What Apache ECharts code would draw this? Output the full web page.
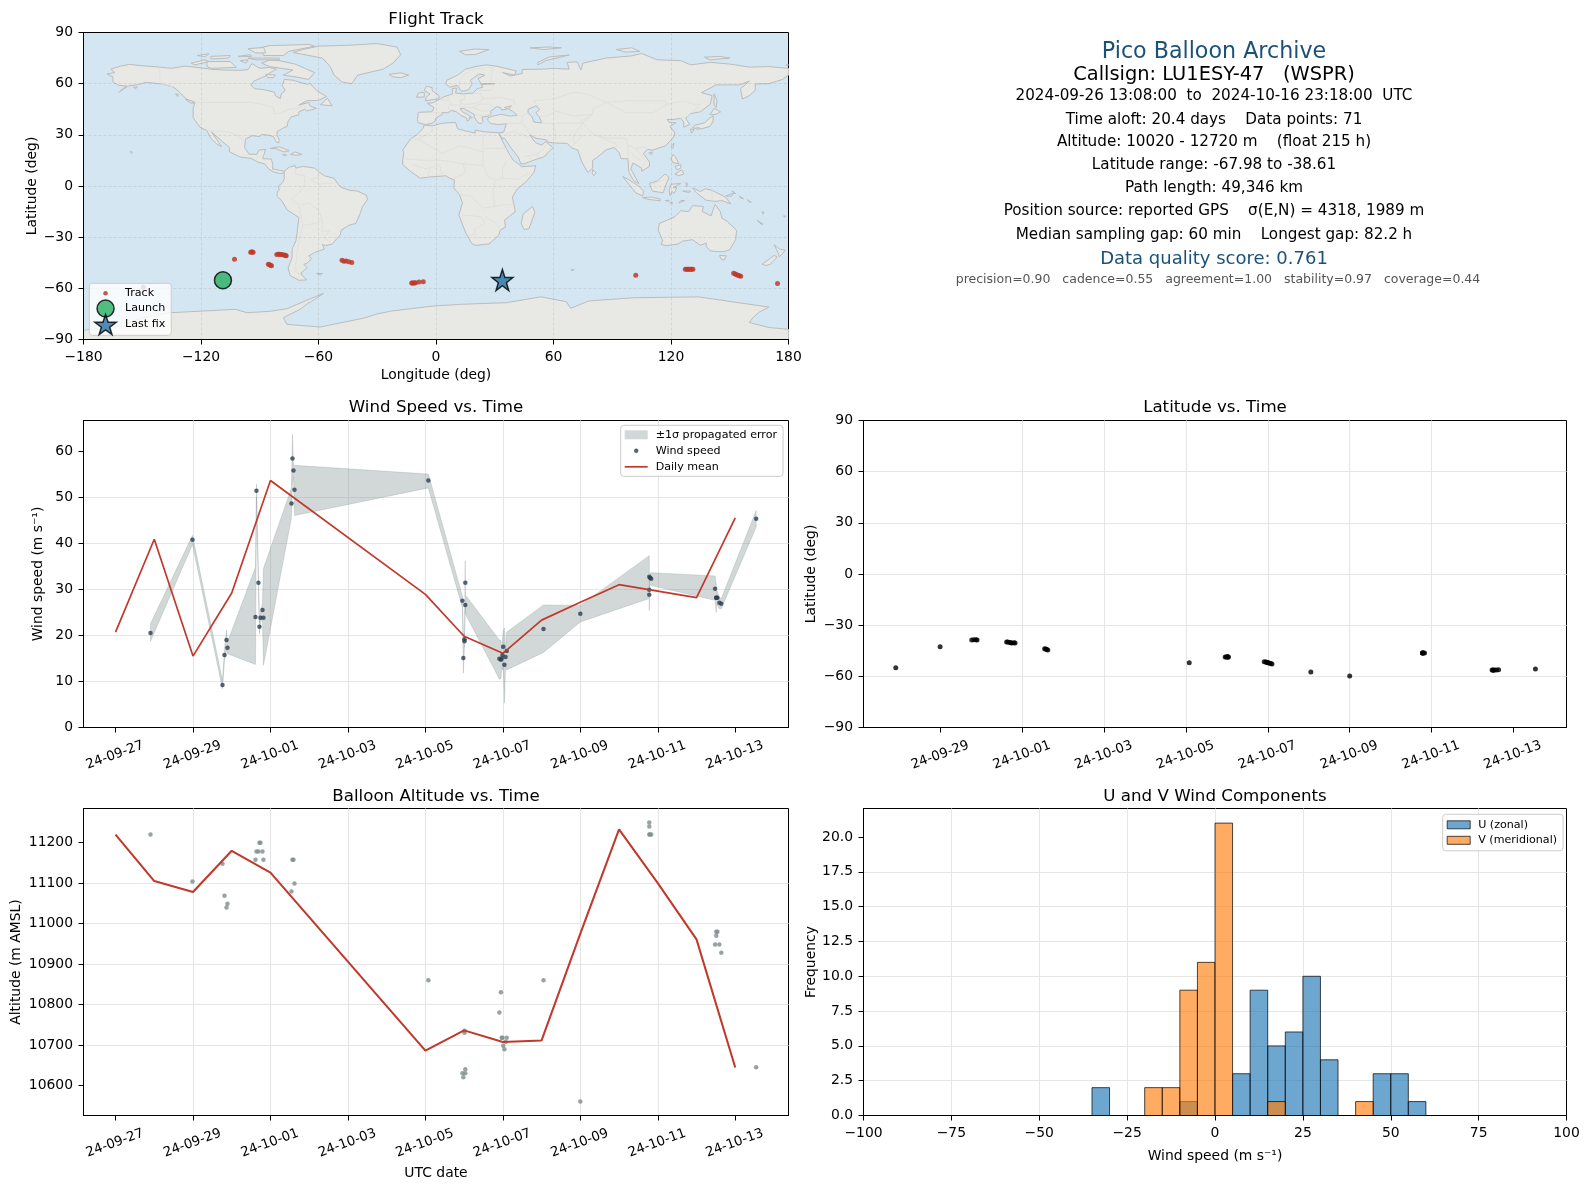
<!DOCTYPE html>
<html><head><meta charset="utf-8"><title>Pico Balloon Archive</title>
<script src="https://cdn.jsdelivr.net/npm/echarts@6/dist/echarts.min.js"></script>
<style>html,body{margin:0;padding:0;background:#fff}#c{width:1589px;height:1189px}</style></head>
<body><div id="c"></div>
<script>
const timeTickDays = [0,2,4,6,8,10,12,14,16];
const timeTickLabels = ["24-09-27","24-09-29","24-10-01","24-10-03","24-10-05","24-10-07","24-10-09","24-10-11","24-10-13"];
const fixDays   = [0.903,1.987,2.761,2.813,2.865,2.89,3.613,3.639,3.69,3.716,3.742,3.794,3.819,4.542,4.568,4.594,4.62,8.077,8.956,8.98,9.01,9.01,9.03,9.03,9.91,9.95,9.97,9.99,10.01,10.04,10.07,10.1,11.05,12.0,13.78,13.78,13.78,13.8,13.83,15.48,15.51,15.51,15.54,15.59,15.64,16.54];
const windSpeed = [20.5,40.75,9.2,15.75,19.0,17.3,24.0,51.4,31.4,21.85,23.8,25.5,23.8,48.6,58.4,55.8,51.6,53.6,27.5,15.1,19.15,18.7,31.4,26.6,14.9,14.7,15.0,15.75,17.5,13.6,15.3,16.6,21.4,24.7,32.7,29.9,28.8,32.5,32.3,30.1,28.15,28.15,28.15,27.05,26.85,45.3];
const windUpper = [22.5,41.7,10.2,17.0,21.2,18.5,34.8,52.8,33,22.8,25,27,34.5,52,63.6,57,56.9,55,28.5,20,20.5,20,36.2,28.8,19,18.9,17,19,21,21.6,17,20.7,26.6,26.5,37.3,31.5,30.5,33.5,33.6,32.9,31,29.5,29.5,28.2,28,47.1];
const windLower = [18.7,39.7,8.4,14.5,17.0,16.0,13.7,50,30,20.3,22.6,24,13.5,45.5,53,54.5,46,52,26,11.8,17.8,17.5,27,24.7,10.5,10.6,13,12.5,14,5.3,13.5,12.5,16.3,22.9,28,28,25.4,31,30.8,27.6,25,26.8,26.5,25.8,25.8,43.5];
const latitudes = [-55.0,-42.7,-38.7,-38.6,-38.6,-38.7,-39.8,-39.9,-40.2,-40.3,-40.4,-40.3,-40.4,-43.9,-44.0,-44.2,-44.5,-52.1,-48.6,-48.6,-48.5,-48.6,-48.6,-48.7,-51.5,-51.6,-51.7,-51.9,-52.0,-52.3,-52.5,-52.7,-57.4,-59.8,-46.3,-46.3,-46.3,-46.3,-46.3,-56.3,-56.4,-56.3,-56.3,-56.3,-56.2,-55.7];
const altitudes = [11220,11104,11148,11069,11040,11049,11158,11178,11178,11200,11200,11178,11158,11079,11158,11158,11099,10860,10630,10620,10735,10730,10640,10630,10780,10830,10718,10718,10698,10689,10708,10718,10860,10560,11250,11240,11220,11220,11220,10948,10970,10980,10980,10948,10928,10645];
const meanDays  = [0,1,2,3,4,8,9,10,11,12,13,14,15,16];
const windMean  = [20.7,40.85,15.5,29.2,53.6,28.9,19.8,16.1,23.3,27.2,31,29.6,28.2,45.5];
const altMean   = [11220,11105,11078,11180,11126,10686,10736,10707,10711,10975,11233,11100,10961,10644];
const trackLon = [-149.4,-102.9,-94.6,-94.2,-93.8,-93.4,-81.3,-80.5,-79.8,-79,-78.3,-77.4,-76.9,-76.5,-85.6,-85,-84.5,-84,-48,-47,-45.9,-44.5,-43,-12.4,-12,-11.5,-11,-10.5,-8.7,-6.5,102,127.3,128,128.6,129.2,129.9,130.5,131.2,152,152.8,153.5,154.2,154.9,155.6,174.4];
const trackLat = [-59.4,-43,-38.9,-38.7,-38.7,-38.9,-40.2,-40,-40,-40.1,-40.3,-40.5,-40.8,-40.9,-45.9,-46.1,-46.4,-46.7,-43.6,-44.1,-44,-44.4,-44.9,-56.9,-56.9,-56.8,-56.8,-56.7,-56.3,-56.2,-52.4,-48.8,-48.8,-48.8,-48.8,-48.8,-48.8,-48.8,-51.2,-51.6,-52,-52.4,-52.6,-52.9,-57.1];
const launchFix = [-108.8,-55.3];
const lastFix = [33.9,-55.1];
const histBinStarts = [-35,-30,-25,-20,-15,-10,-5,0,5,10,15,20,25,30,35,40,45,50,55];
const histBinWidth = 5;
const uCounts = [2,0,0,0,0,1,0,0,3,9,5,6,10,4,0,0,3,3,1];
const vCounts = [0,0,0,2,2,9,11,21,0,0,1,0,0,0,0,1,0,0,0];
const infoLines = [
 ["Pico Balloon Archive",22.2,"#1a5276"],["Callsign: LU1ESY-47   (WSPR)",19.4,"#000"],
 ["2024-09-26 13:08:00  to  2024-10-16 23:18:00  UTC",15.2,"#000"],["Time aloft: 20.4 days    Data points: 71",15.2,"#000"],
 ["Altitude: 10020 - 12720 m    (float 215 h)",15.2,"#000"],["Latitude range: -67.98 to -38.61",15.2,"#000"],
 ["Path length: 49,346 km",15.2,"#000"],["Position source: reported GPS    σ(E,N) = 4318, 1989 m",15.2,"#000"],
 ["Median sampling gap: 60 min    Longest gap: 82.2 h",15.2,"#000"],["Data quality score: 0.761",18,"#1a5276"],
 ["precision=0.90   cadence=0.55   agreement=1.00   stability=0.97   coverage=0.44",12.5,"#555"]];
const infoY = [52.7,75,96.2,119.6,142.4,165,188.5,211.3,234.6,259,279.7];
const infoX = [1214,1214,1214,1214,1214,1214,1214,1214,1214,1214,1218];
const land = [
[[-168,65.6],[-164,66.5],[-166,68.5],[-161,70.3],[-156.5,71.3],[-150,70.5],[-141,69.7],[-135,69],[-128,70.3],[-124,69.8],[-115,68.5],[-108,68],[-100,67.8],[-96,68.2],[-94,71.8],[-90,69],[-85,69.5],[-81.5,68.5],[-85,66.3],[-87,64.5],[-93,61.5],[-94.5,59],[-92.5,57],[-88,56.5],[-82.5,55],[-82,52.9],[-79.5,51.3],[-79,54],[-77,56],[-78.5,58.8],[-77.5,62.5],[-73,62],[-70,61],[-65.5,59.5],[-64.5,60.3],[-61,56],[-56,52.5],[-60,50.2],[-66,50],[-70,47.5],[-65,49],[-64.5,47],[-61,45.5],[-66,44],[-67,45],[-70,43.5],[-70,41.7],[-74,40.5],[-75.5,38],[-76,35],[-78,34],[-81,32],[-81.3,30],[-80,26.8],[-80.5,25.2],[-81.8,26],[-83,29],[-85,29.7],[-89,30.2],[-90,29],[-94,29.5],[-97.3,27.5],[-97.7,22.5],[-95.5,18.7],[-91.5,18.5],[-90.5,21],[-87,21.5],[-88,18],[-88.5,16],[-84,15.8],[-83.3,12],[-83.5,10],[-80,9.2],[-77.5,8.7],[-77.5,7.5],[-80,7.3],[-83,8.3],[-85.5,10],[-87.5,13],[-91,14],[-94.5,16.2],[-100,17],[-105.5,20],[-105.5,22.5],[-109,26],[-112.5,29.5],[-114.7,31.7],[-112,27.5],[-109.5,23],[-112,24.7],[-115,28],[-117,32.5],[-120.5,34.5],[-124,40],[-124,46],[-123,49],[-127.5,51],[-130.5,54.5],[-134,58],[-140,59.8],[-148,60.8],[-152,59.5],[-157,58.7],[-162,55],[-158,58.7],[-162,59],[-165,61],[-165,64]],
[[-73,78.3],[-68,80],[-60,82],[-45,82.5],[-30,83.5],[-20,81.5],[-18,77],[-22,72],[-27,68.5],[-40,65],[-43,60],[-48,61],[-52,65],[-54,70],[-58,75]],
[[-80,73.5],[-72,71.5],[-67,69],[-62,66.5],[-65,62.5],[-72,64],[-78,65],[-73,68],[-85,70],[-89,72],[-85,73.8]],
[[-117,73],[-105,73],[-102,69.5],[-115,69],[-117,70]],
[[-90,81],[-85,82.3],[-65,83],[-62,82],[-75,79],[-78,76.5],[-88,76.5]],
[[-125,72],[-118,74],[-116,73],[-123,71]],
[[-115,76],[-105,76.5],[-106,75],[-115,74.5]],
[[-96,75],[-80,75],[-80,74],[-92,74]],
[[-96,80.5],[-88,81.2],[-87,78],[-92,78]],
[[-122,76.5],[-116,77.5],[-118,75.8]],
[[-101,76],[-95,77],[-94,76]],
[[-100,73.5],[-96,74],[-97,72]],
[[-87,65.5],[-82,65],[-83,63.5],[-86,63.6]],
[[-59,47.7],[-53,47],[-55.5,51.5]],
[[-84.8,22],[-80,23],[-75,20.7],[-77.5,20],[-82,22]],
[[-74.3,18.5],[-72,20],[-68.5,18.5],[-71,18]],
[[-78.3,18.4],[-76.3,18.2],[-77,17.8]],
[[-128,50.8],[-125,50],[-123.5,48.5],[-125.5,48.8]],
[[-133,54],[-131.5,53.7],[-132,52.5]],
[[-154.5,57.9],[-152.5,58],[-153.5,57]],
[[-156,20.5],[-155,19.7],[-155.7,19]],
[[-77.5,8.7],[-75,11],[-72,12],[-71.5,10.5],[-68,11.5],[-62,10.5],[-60,8.5],[-57,6],[-52,4.5],[-50,1],[-48,-1],[-44,-2.5],[-40,-3],[-35.5,-5.5],[-35,-8],[-37.5,-12],[-39,-17],[-41,-22],[-44.5,-23],[-48.5,-26],[-48.8,-28.5],[-53,-34],[-56.5,-35],[-58,-34.3],[-57,-37],[-62,-39],[-65,-41],[-63.5,-42.5],[-65.5,-45],[-67.5,-46],[-65.8,-48],[-69,-51],[-68.3,-52.5],[-66,-55],[-70,-55.3],[-74.5,-52.5],[-75.5,-48],[-73.5,-42],[-73.5,-37],[-71.5,-32],[-71,-28],[-70,-18.5],[-76,-14],[-78.5,-9],[-81.2,-6],[-81,-3.5],[-80,-2.3],[-80.5,0],[-78.8,1.5],[-77.5,4],[-77.5,7]],
[[-61,-51.3],[-58,-51.3],[-59,-52.3]],
[[-6,35.8],[-2,35.2],[3,36.8],[10,37.3],[11,33.5],[15,32.3],[20,31],[20,32.8],[25,31.7],[32.3,31.2],[32.5,29.8],[35,24],[37.5,18.5],[39.5,15],[43.2,12],[43.5,11.3],[51,11.9],[50,8],[46,2.5],[41.5,-1.7],[39,-6.5],[40.5,-15],[35,-20],[35.5,-24],[32.7,-26],[32,-29],[27,-34],[20,-34.8],[18.3,-33.8],[15,-27],[11.7,-17],[13.5,-10],[12,-5],[9,-1],[9.5,3.5],[7,4.5],[5,6],[-4,5.2],[-8,4.5],[-13,8.5],[-17,12.5],[-17,15],[-16.5,19.5],[-17,21],[-13,27.7],[-9.7,30],[-6.5,34]],
[[-5.5,36],[-9,37],[-9.5,39],[-9,43.2],[-2,43.5],[-1,46],[-4.5,48.5],[-1.5,48.8],[2,51],[4.5,52.5],[8.5,54],[8.3,57],[10.5,57.5],[10,54.5],[14,54],[19,54.5],[21,57],[24,58],[23,59.5],[30,60],[23,60],[21.5,63],[25,65],[22,65.7],[17.5,62],[18.5,60],[16.5,56.3],[13,55.5],[11,59],[7,58],[5,60],[5.5,62],[11,65],[15,68.5],[20,70],[26,71],[31,70.2],[41,67.5],[40,65],[34,66.5],[38,64.5],[44,66],[44,68.3],[54,68.5],[60,69],[68,68.5],[67,72.5],[72,72.8],[74,68],[75,72],[80,73.3],[87,75],[100,76.3],[105,77.7],[113,74],[125,73.5],[130,71],[140,72.5],[150,71.5],[160,69.7],[170,70],[180,69],[180,65],[177,62.5],[170,60],[163,59.8],[163,56],[160,53],[156.5,51],[155.5,57],[160,61.5],[155,59.3],[143,59.3],[135.5,54.7],[141,53],[140,48],[135,43.5],[130,42.5],[127.5,39.7],[129.5,36],[126.5,34.5],[126.5,37.5],[125,39.7],[121.5,39],[118,39],[119,37.3],[122.5,37],[119.5,35],[122,31],[121,28],[117,23.5],[110.5,21],[108,21.5],[106,19],[109,14],[109,11.5],[105,8.7],[105,10.5],[100.5,13.5],[99.5,10],[103.5,1.5],[101,3],[98.5,8],[98,16],[94.5,16],[93.5,19.5],[91,22.5],[87,21.3],[82,16.5],[80,15],[80,10.5],[77.5,8],[74.5,14],[72.7,20],[72.5,21],[69,22.5],[67,25],[61,25.2],[57,25.7],[56.5,27],[51,28],[48,30],[50,26.5],[51.5,25],[54,24],[56,26],[59.7,22.5],[55,17],[52,16],[45,13],[43.3,13],[42,17],[38.5,22],[35,28],[34,27.8],[32.6,30],[32.3,31.2],[34.5,31.5],[36,36.5],[32,36],[28,36.6],[26.5,38.5],[26.5,40],[29,41],[33,42],[38,41],[41.5,41.5],[39,44],[37,45],[38.5,47],[35,46],[36.5,45.2],[33.5,44.5],[33,46],[31,46.5],[28,44],[28,41.8],[26,40.8],[23.5,40.5],[24,38],[23,36.5],[21.5,37],[19.5,40.5],[19.5,42],[14,45.5],[12.3,45.3],[13.5,43.5],[16,42],[18.5,40],[16.8,40],[17,38.8],[16,38],[15.5,40],[12.5,41.5],[10.5,43.5],[8,44.3],[6,43],[3,43],[3,41.8],[0,40],[-0.5,38],[-2,36.8]],
[[-5.5,50],[1.5,51.2],[1.5,53],[-2,56],[-2,57.7],[-5,58.6],[-6,56],[-3,54],[-5,52]],
[[-10,52],[-6,52.2],[-6,55],[-9,54.5]],
[[-24,65.5],[-18,66.3],[-14,65],[-18,63.5],[-22,64]],
[[12,79],[20,80.3],[27,80],[20,77],[15,77]],
[[48,81],[58,81.5],[64,81],[55,80]],
[[92,80],[100,81],[104,79],[97,78.5]],
[[137,75.5],[145,76],[150,75],[140,74]],
[[178.8,71.3],[180,71],[178.8,70.8]],
[[52,71],[56,73.5],[68,76.8],[58,75.7],[52,72.5]],
[[142,54],[143.5,50],[143,46],[142,48]],
[[131,34],[135.5,33.5],[140,35],[141.5,38],[141.5,41.3],[140,40],[137,37],[132,35.5]],
[[140,42],[142,45.5],[145.3,43.5],[143,42]],
[[130,33.5],[131.8,33],[130.5,31]],
[[132.5,34],[134.5,34.2],[133.5,33]],
[[120,23],[121.5,25.2],[121,22]],
[[108.7,19.3],[110.5,20],[110,18.3]],
[[120,16],[121,18.5],[122.3,17],[124,13],[121,13.7]],
[[122,7],[125.5,9.5],[126.5,7],[124,6]],
[[122,11.5],[125,12.5],[125,10.5],[123,9.5]],
[[109,1.5],[113,3],[117,7],[119,5],[117.5,1],[116,-4],[110.5,-3]],
[[95.3,5.5],[98,4],[103.5,0],[106,-3],[105.5,-5.8],[102,-4],[98.5,1]],
[[105.5,-6.8],[110,-6.5],[114.5,-7.7],[114.5,-8.7],[108,-7.8]],
[[119.5,-5.5],[119,-2.5],[120,1],[125,1.5],[121,-1],[123,-1],[121.5,-4.5],[120.5,-3]],
[[127.5,2],[128.5,1.5],[128,-0.5]],
[[126,-3],[130,-3],[129,-3.8]],
[[131,-1],[135,-3.3],[137.5,-1.6],[141,-2.6],[146,-5.5],[147.8,-6.5],[150.5,-10.5],[146,-8.5],[143,-9],[138,-8.4],[133,-4]],
[[148,-5.8],[152,-4.2],[151,-6]],
[[151,-3],[153,-4.5],[152,-3.5]],
[[155,-6],[157,-7.5],[155.5,-7]],
[[159,-8],[161,-9.5],[160,-9.5]],
[[124,-10],[127,-8.5],[125,-8.5]],
[[117,-8.5],[119,-8.3],[119,-9]],
[[120,-9.5],[121,-10],[119.5,-9.9]],
[[166.5,-15],[167.5,-15.5],[167,-16.5]],
[[164,-20.2],[167,-22.4],[166,-22.3]],
[[177.5,-17.5],[178.7,-17.7],[178,-18.3]],
[[80,9.7],[81.8,7.5],[80.5,6],[79.8,8]],
[[49.3,-12],[50.5,-15.5],[47.5,-25],[45,-25.5],[43.5,-22],[44.5,-16.5]],
[[114,-22],[113.5,-26],[115.7,-32],[115,-34.3],[118,-35],[123.5,-34],[126,-32.3],[131,-31.5],[135,-34.7],[138,-33.5],[138,-35.5],[140,-38],[144,-38.5],[147,-38.5],[150,-37.3],[153,-31.5],[153.5,-26],[149,-21],[146,-18.8],[145.2,-15],[142.5,-10.8],[141.5,-14],[140.5,-17.5],[136,-15],[136.5,-12],[131,-11.5],[129,-15],[125,-14.5],[122,-18],[117,-20.5]],
[[144.8,-40.7],[148.3,-41],[147,-43.5],[145.5,-42.8]],
[[172.7,-34.5],[175.5,-37],[178.3,-37.7],[177,-39.5],[175.3,-41.5],[174.8,-39.5]],
[[172.7,-40.7],[174.2,-41.7],[170.7,-45.9],[168.5,-46.6],[166.5,-45.8],[170,-43]],
[[69,-49],[70.5,-49],[69.5,-49.7]],
[[-180,-84.5],[-160,-82],[-155,-79],[-145,-76],[-135.7,-74.3],[-118.8,-73.3],[-102.4,-72.3],[-96.6,-74.3],[-85,-73.5],[-76.2,-72],[-66,-67],[-57.5,-63],[-62,-66.5],[-66,-69.3],[-69.4,-72.3],[-77.9,-77.2],[-76.2,-81.1],[-59.2,-82.7],[-37,-77.5],[-30,-75],[-22.7,-73.3],[-1.6,-70.4],[12.4,-69.4],[36,-68.4],[53.5,-65],[66.5,-67.8],[68.8,-71.7],[78,-67.4],[101.4,-65.5],[134,-65],[170,-71],[165,-74],[162,-77],[160,-80],[170,-83],[180,-84],[180,-90],[-180,-90]]
];
const inlandSeas = [[[47,45],[51,47],[53,45],[51,43],[53,40],[54,37],[50,37.5],[49,40.5],[47,43]]];
const borders = [
 [[-123,49],[-95,49],[-89,48],[-83,46],[-82.5,42],[-79,43],[-75,45],[-70,46],[-67,47.5],[-67,45]],
 [[-141,69.7],[-141,60],[-134,58]],[[-117,32.5],[-106,31.8],[-101,29.5],[-97.3,26]],[[-92,14.8],[-91,17],[-88,18]],
 [[-71.5,10.5],[-72,7],[-67,6],[-67,1],[-70,-4],[-74,-7.5],[-70,-11],[-69,-17],[-70,-18.5]],[[-60,8.5],[-60,5],[-64,4],[-60,1],[-52,2]],
 [[-69,-17],[-68,-23],[-70,-32],[-71,-40],[-72,-50],[-69,-52]],[[-58,-20],[-58,-27],[-54,-26],[-57.5,-30],[-53,-34]],[[-69,-11],[-65,-10],[-60,-14],[-58,-20],[-62,-22],[-68,-23]],
 [[-9,27.7],[-2,32],[-2,35]],[[-13,27.7],[-8.7,27.3],[3,19],[12,23.5],[15,23],[24,20],[24,31.5]],[[25,22],[36.8,22]],[[-17,16],[-5,15],[3,15],[14,13],[24,12],[24,20]],[[14,13],[15,7.5],[9,4.5]],[[24,12],[27,5],[31,3.5],[34,4.5],[42,4],[48,8]],[[36,14.5],[34,10],[34,4.5]],[[12,-5],[18,-6],[22,-11],[24,-13],[30,-12],[34,-11],[40.5,-10.5]],[[13.5,-17],[23,-18],[25,-22],[20,-25],[20,-28.5],[17,-29]],[[30,-12],[29,-3],[30,3]],[[33,-26],[31,-22],[25,-18]],[[-4,5],[-3,11],[2,12],[3,6]],[[-12,12.5],[-5,10],[-3,11]],
 [[-2,43.5],[3,42.5]],[[2,51],[6,50],[8,49],[7.5,47.5],[6,46],[7.5,44]],[[7,53.5],[6,50]],[[14,54],[15,51],[12,50],[13,48],[17,48],[22,49],[24,51],[23,54],[19,54.5]],[[13,48],[10,47.5],[7.5,47.5]],[[24,51],[33,52],[40,50],[40,47.5]],[[12,46.5],[16,46],[19,46],[22,48],[27,48],[30,46]],[[19,46],[23,44],[28,44]],[[28,41.8],[26,41.8],[23,41],[20,42]],
 [[30,60],[28,62],[29,69],[26,70]],[[25,68.5],[20,69]],[[12,59],[12,62],[15,66],[20,69]],[[30,60],[28,56],[24,56],[21,56]],
 [[47,43],[44,41],[41.5,41.5]],[[44,41],[44,37],[36,36.5]],[[44,37],[46,34],[48,30]],[[39,32],[35,29.5]],[[39,32],[47,29],[48,28.5]],[[52,16],[52,19],[55,22],[56,24]],[[45,17],[52,19]],
 [[54,37],[60,36.5],[61,31],[61,25.2]],[[61,36.5],[66,37],[71,37],[75,37],[71,31],[70,27],[71,25],[69,23]],[[53,45],[50,50],[60,51],[70,55],[77,54],[83,51],[87,49]],[[53,41],[57,41],[61,44],[70,41],[80,42],[74,38]],[[87,49],[80,45],[80,42],[75,37]],[[87,49],[97,43],[111,43],[118,48],[117,50],[110,50],[98,50],[87,49]],[[118,48],[127,50],[131,48],[135,48],[131,43]],[[125,39.7],[129,41],[130,42.5]],[[75,37],[78,33],[81,30],[88,28],[92,28],[97,28],[98,24],[102,22],[106,23],[108,21.5]],[[81,30],[88,26.5],[92,25],[92,22]],[[98,24],[98,16]],[[102,22],[105,18],[107,15],[105,11]],[[100,20],[101,17],[105,15]],[[71,25],[75,30]],
 [[141,-2.6],[141,-9]],[[110,1],[115,3],[117,4]]
];

const FONT = '"DejaVu Sans"';
const RED = '#c0392b', OCEAN = '#d4e6f1', LAND = '#e8e8e4', COAST = '#bcbcbc', BORDER = '#dddddb';
const minus = v => String(v).replace('-', '\u2212');
const r = [
    {left:83.5,top:32.5,width:705,height:307},
    {left:83.5,top:420.5,width:705,height:307},
    {left:863.5,top:420.5,width:703,height:307},
    {left:83.5,top:808.5,width:705,height:307},
    {left:863.5,top:808.5,width:703,height:307}
];
const baseLine = {show:true,onZero:false,lineStyle:{color:'#000',width:1}};
const baseTick = {show:true,length:5,lineStyle:{color:'#000',width:1}};
const gridSplit = {show:true,showMinLine:false,showMaxLine:false,lineStyle:{color:'#e6e6e6',width:1.1}};
function axis(o){
  const ticks = o.ticks, labels = o.labels || ticks.map(minus);
  const fmt = v => { const i = ticks.findIndex(t => Math.abs(t - v) < 1e-6); return i < 0 ? '' : labels[i]; };
  return {
    type:'value', gridIndex:o.g, min:o.min, max:o.max, scale:true,
    name:o.name||'', nameLocation:'middle', nameGap:o.gap||30,
    nameTextStyle:{fontFamily:FONT,fontSize:13.9,color:'#000'},
    axisLine:baseLine,
    axisTick:Object.assign({},baseTick,{customValues:ticks}),
    axisLabel:Object.assign({color:'#000',fontFamily:FONT,fontSize:13.9,margin:o.margin||10.5,customValues:ticks,formatter:fmt,hideOverlap:false,showMinLabel:true,showMaxLabel:true},o.rot?{rotate:20,align:'center',verticalAlign:'top',fontSize:13.3,padding:[0,6,0,0]}:{}),
    splitLine:o.split||gridSplit
  };
}
const timeAxis = (g,min,max,name,gap) => {
  const t=[],l=[]; timeTickDays.forEach((d,i)=>{ if(d>=min&&d<=max){t.push(d);l.push(timeTickLabels[i]);} });
  return axis({g,min,max,ticks:t,labels:l,rot:true,margin:20.5,name,gap});
};
const mapSplit = {show:true,showMinLine:false,showMaxLine:false,lineStyle:{color:'rgba(120,120,120,0.22)',width:0.8,type:[3,2]}};
const dot = (w,h,rr) => `path://M0 0M${w} ${h}M${w/2-rr} ${h/2}a${rr} ${rr} 0 1 0 ${2*rr} 0a${rr} ${rr} 0 1 0 ${-2*rr} 0Z`;
const bar = (w,h,t) => `path://M0 0M${w} ${h}M0 ${h/2-t/2}L${w} ${h/2-t/2}L${w} ${h/2+t/2}L0 ${h/2+t/2}Z`;
const STAR = 'path://M50 0L61.8 35.3L98.9 35.3L69 57.7L79.4 91.2L50 70.5L20.6 91.2L31 57.7L1.1 35.3L38.2 35.3Z';
const legendBase = {orient:'vertical',selectedMode:false,backgroundColor:'rgba(255,255,255,0.8)',borderColor:'#ccc',borderWidth:1,borderRadius:3,
   textStyle:{fontFamily:FONT,fontSize:11.1,color:'#000',padding:[0,0,0,3]},align:'left'};
const zip2 = (a,b)=>a.map((v,i)=>[v,b[i]]);

const series = [
 {type:'custom',name:'land',xAxisIndex:0,yAxisIndex:0,z:-0.5,silent:true,coordinateSystem:'cartesian2d',data:land.map((p,i)=>[i]).concat(inlandSeas.map((p,i)=>[land.length+i])),
  renderItem:(ps,api)=>{const i=api.value(0);const isSea=i>=land.length;const pts=(isSea?inlandSeas[i-land.length]:land[i]).map(p=>api.coord(p));
    return {type:'polygon',shape:{points:pts},style:{fill:isSea?OCEAN:LAND,stroke:COAST,lineWidth:1}};}},
 {type:'custom',name:'borders',xAxisIndex:0,yAxisIndex:0,z:-0.4,silent:true,coordinateSystem:'cartesian2d',data:borders.map((p,i)=>[i]),
  renderItem:(ps,api)=>({type:'polyline',shape:{points:borders[api.value(0)].map(p=>api.coord(p))},style:{fill:null,stroke:BORDER,lineWidth:0.8}})},
 {type:'scatter',name:'Track',xAxisIndex:0,yAxisIndex:0,symbolSize:5,itemStyle:{color:RED,opacity:0.85},data:zip2(trackLon,trackLat),z:3},
 {type:'scatter',name:'Launch',xAxisIndex:0,yAxisIndex:0,symbolSize:17,itemStyle:{color:'#27ae60',borderColor:'#000',borderWidth:1.5},data:[launchFix],z:4},
 {type:'scatter',name:'Last fix',xAxisIndex:0,yAxisIndex:0,symbol:STAR,symbolSize:21,itemStyle:{color:'#2471a3',borderColor:'#000',borderWidth:1.5},data:[lastFix],z:4},
 {type:'custom',name:'\u00b11\u03c3 propagated error',xAxisIndex:1,yAxisIndex:1,coordinateSystem:'cartesian2d',itemStyle:{color:'rgba(127,140,141,0.35)'},z:1,
  data:fixDays.map((d,i)=>[d,windLower[i],windUpper[i]]),
  renderItem:(ps,api)=>{ if(ps.dataIndex!==0) return null;
    const up=fixDays.map((d,i)=>api.coord([d,windUpper[i]])); const lo=fixDays.map((d,i)=>api.coord([d,windLower[i]])).reverse();
    return {type:'polygon',shape:{points:up.concat(lo)},style:{fill:'rgba(127,140,141,0.35)',stroke:'rgba(127,140,141,0.25)',lineWidth:1}};}},
 {type:'scatter',name:'Wind speed',xAxisIndex:1,yAxisIndex:1,symbolSize:4.5,itemStyle:{color:'#2c3e50'},data:zip2(fixDays,windSpeed),z:3},
 {type:'line',name:'Daily mean',xAxisIndex:1,yAxisIndex:1,showSymbol:false,symbol:'none',lineStyle:{color:RED,width:1.7},itemStyle:{color:RED},data:zip2(meanDays,windMean),z:4},
 {type:'scatter',name:'Latitude',xAxisIndex:2,yAxisIndex:2,symbolSize:5,itemStyle:{color:'#000'},data:zip2(fixDays,latitudes)},
 {type:'scatter',name:'Altitude',xAxisIndex:3,yAxisIndex:3,symbolSize:4.5,itemStyle:{color:'#7f8c8d'},data:zip2(fixDays,altitudes),z:3},
 {type:'line',name:'Altitude daily mean',xAxisIndex:3,yAxisIndex:3,showSymbol:false,symbol:'none',lineStyle:{color:RED,width:2.05},data:zip2(meanDays,altMean),z:4},
];
const histSeries = (name,counts,fill) => ({type:'custom',name,xAxisIndex:4,yAxisIndex:4,coordinateSystem:'cartesian2d',
  itemStyle:{color:fill,borderColor:'rgba(0,0,0,0.7)',borderWidth:1},
  data:histBinStarts.map((b,i)=>[b,counts[i]]),
  renderItem:(ps,api)=>{const b=api.value(0),c=api.value(1); if(!c) return null;
    const a=api.coord([b,0]), e=api.coord([b+histBinWidth,c]);
    return {type:'rect',shape:{x:a[0],y:e[1],width:e[0]-a[0],height:a[1]-e[1]},style:{fill,stroke:'rgba(0,0,0,0.7)',lineWidth:1}};}});
series.push(histSeries('U (zonal)',uCounts,'rgba(31,119,180,0.65)'), histSeries('V (meridional)',vCounts,'rgba(255,127,14,0.65)'));

const panelTitles = [["Flight Track",0,20],["Wind Speed vs. Time",1,407.5],["Latitude vs. Time",2,407.5],["Balloon Altitude vs. Time",3,796.5],["U and V Wind Components",4,796.5]];
const graphic = panelTitles.map(([t,i,y])=>({type:'text',x:r[i].left+r[i].width/2,y,style:{text:t,align:'center',verticalAlign:'middle',font:`16.67px ${FONT}`,fill:'#000'}}))
 .concat(infoLines.map(([t,s,c],i)=>({type:'text',x:infoX[i],y:infoY[i],style:{text:t,align:'center',verticalAlign:'middle',font:`${s}px ${FONT}`,fill:c}})));

const option = {
 animation:false,backgroundColor:'#fff',textStyle:{fontFamily:FONT},
 grid:r.map((g,i)=>Object.assign({},g,{containLabel:false,show:true,borderColor:'#000',borderWidth:1,backgroundColor:i===0?OCEAN:'#fff',z:i===0?-1:0})),
 xAxis:[
  axis({g:0,min:-180,max:180,ticks:[-180,-120,-60,0,60,120,180],split:mapSplit,name:'Longitude (deg)',gap:29}),
  timeAxis(1,-0.827,17.375),
  timeAxis(2,0.114,17.3),
  timeAxis(3,-0.827,17.375,'UTC date',51),
  axis({g:4,min:-100,max:100,ticks:[-100,-75,-50,-25,0,25,50,75,100],name:'Wind speed (m s\u207b\u00b9)',gap:34,margin:11})
 ],
 yAxis:[
  axis({g:0,min:-90,max:90,ticks:[-90,-60,-30,0,30,60,90],split:mapSplit,name:'Latitude (deg)',gap:44}),
  axis({g:1,min:0,max:66.63,ticks:[0,10,20,30,40,50,60],name:'Wind speed (m s\u207b\u00b9)',gap:38}),
  axis({g:2,min:-90,max:90,ticks:[-90,-60,-30,0,30,60,90],name:'Latitude (deg)',gap:45}),
  axis({g:3,min:10525.5,max:11284.5,ticks:[10600,10700,10800,10900,11000,11100,11200],name:'Altitude (m AMSL)',gap:60}),
  axis({g:4,min:0,max:22.05,ticks:[0,2.5,5,7.5,10,12.5,15,17.5,20],labels:['0.0','2.5','5.0','7.5','10.0','12.5','15.0','17.5','20.0'],name:'Frequency',gap:45})
 ],
 legend:[
  Object.assign({},legendBase,{left:89.3,top:283.3,padding:[0,6,0,4],itemWidth:23,itemHeight:20,itemGap:-5.5,
    data:[{name:'Track',icon:dot(23,20,2.3),itemStyle:{color:RED,opacity:.85,borderWidth:0}},{name:'Launch',icon:dot(23,20,8.5),itemStyle:{color:'#27ae60',borderColor:'#000',borderWidth:1.5}},{name:'Last fix',icon:STAR,itemStyle:{color:'#2471a3',borderColor:'#000',borderWidth:1.5}}]}),
  Object.assign({},legendBase,{left:620.7,top:425.3,padding:[4,6,4,4],itemWidth:23,itemHeight:9,itemGap:5,
    data:[{name:'\u00b11\u03c3 propagated error',icon:'rect',itemStyle:{color:'rgba(127,140,141,0.35)'}},{name:'Wind speed',icon:dot(23,9,2.2),itemStyle:{color:'#2c3e50'}},{name:'Daily mean',icon:bar(23,9,1.7),itemStyle:{color:RED}}]}),
  Object.assign({},legendBase,{left:1442.7,top:814.3,padding:[5,6,5,4],itemWidth:23,itemHeight:8,itemGap:4.5,
    data:[{name:'U (zonal)',icon:'rect',itemStyle:{color:'rgba(31,119,180,0.65)',borderColor:'rgba(0,0,0,.7)',borderWidth:1}},{name:'V (meridional)',icon:'rect',itemStyle:{color:'rgba(255,127,14,0.65)',borderColor:'rgba(0,0,0,.7)',borderWidth:1}}]})
 ],
 series,graphic
};
const chart = echarts.init(document.getElementById('c'),null,{renderer:'canvas'});
chart.setOption(option);
</script></body></html>
